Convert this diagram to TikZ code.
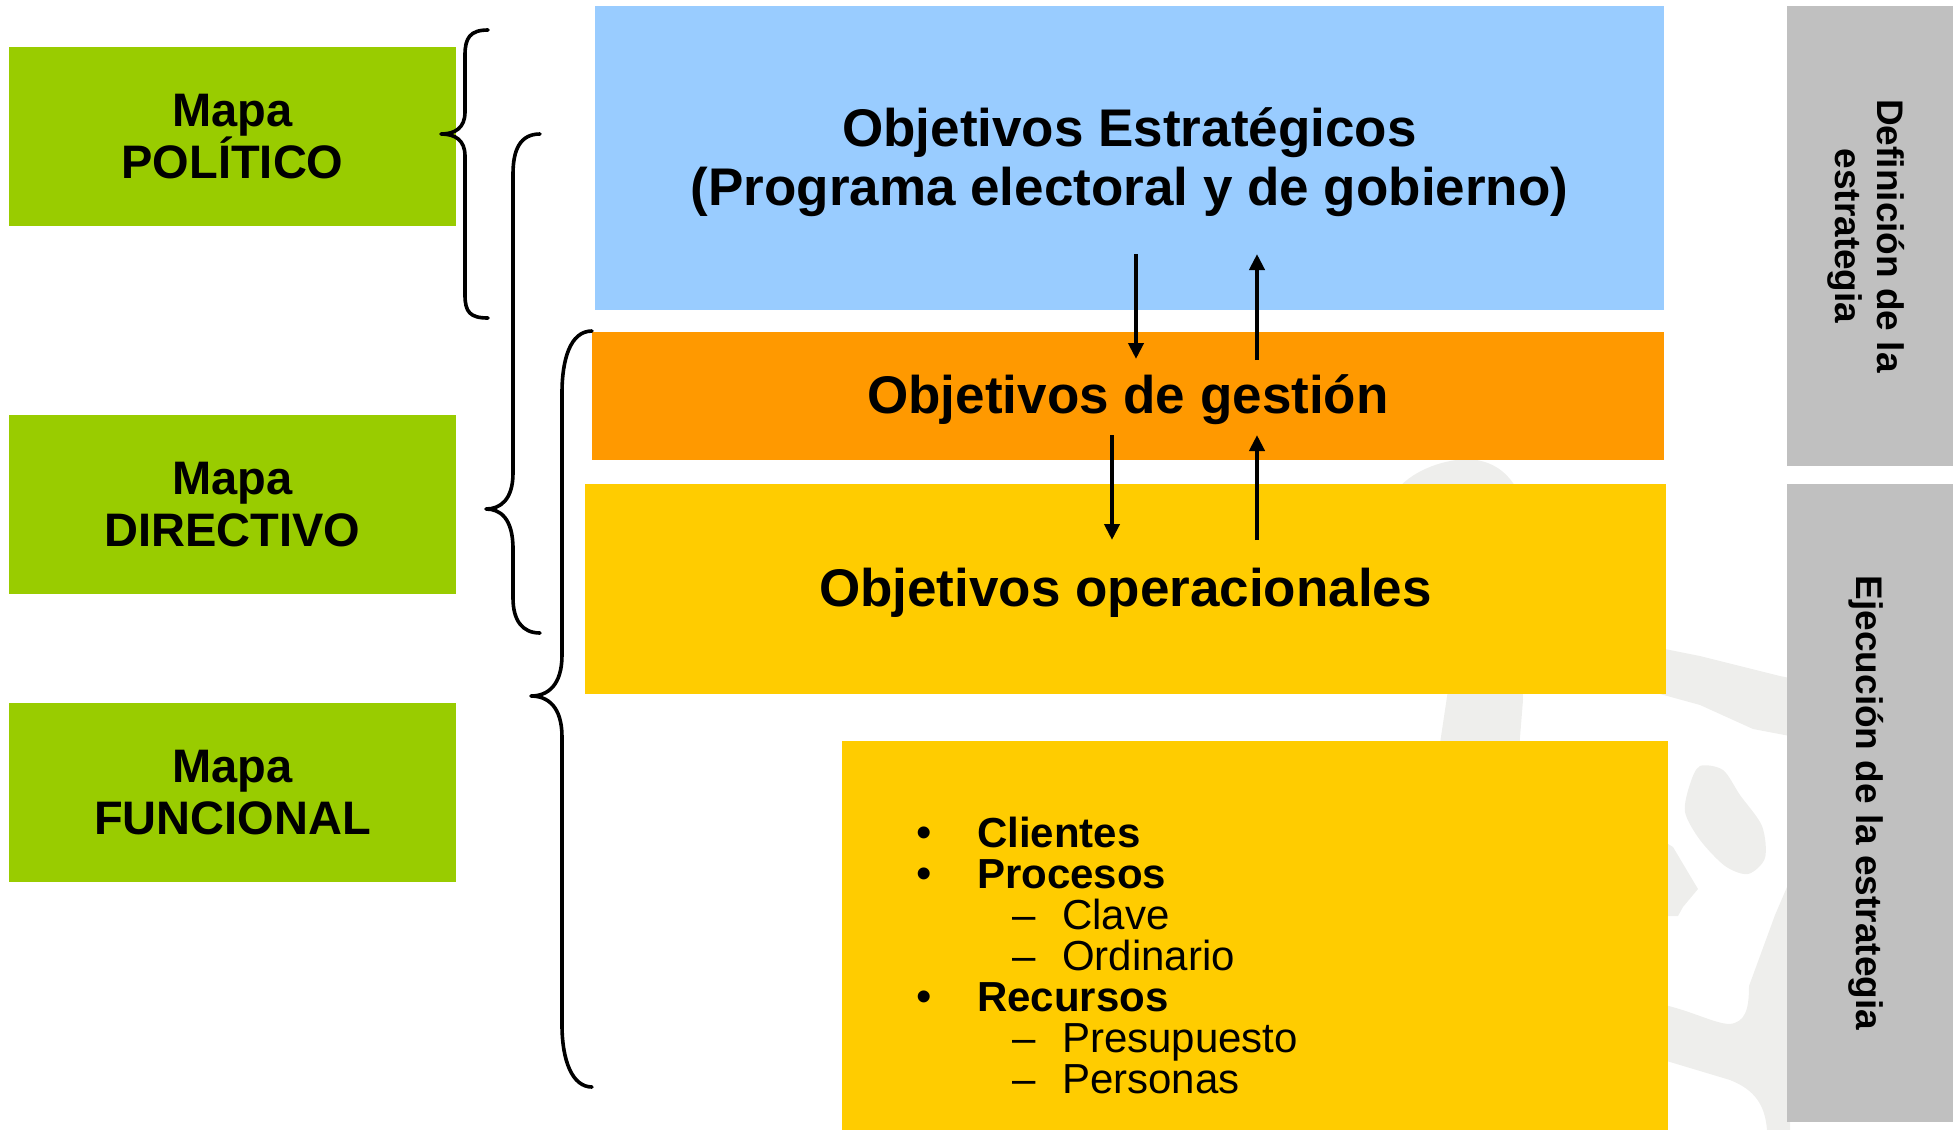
\documentclass[tikz,border=0pt]{standalone}
\usepackage{fontspec}
\setmainfont{Liberation Sans}
\usetikzlibrary{arrows.meta}
\definecolor{mgreen}{HTML}{99CC00}
\definecolor{mblue}{HTML}{99CCFF}
\definecolor{morange}{HTML}{FF9900}
\definecolor{myellow}{HTML}{FFCC00}
\definecolor{mgray}{HTML}{C0C0C0}
\definecolor{wmgray}{HTML}{EEEEEC}
\begin{document}
\begin{tikzpicture}[x=1pt,y=-1pt,
  box/.style={draw=none, inner sep=0pt, outer sep=0pt, anchor=north west, align=center, text=black},
  greenbox/.style={box, fill=mgreen, minimum width=447pt, minimum height=179pt,
    font=\fontsize{47}{52}\selectfont\bfseries},
  bigtext/.style={inner sep=0pt, align=center, font=\fontsize{53}{59}\selectfont\bfseries},
  sidetext/.style={rotate=-90, align=center, inner sep=0pt, font=\fontsize{37}{42}\selectfont\bfseries},
  brace/.style={line width=3.6pt, line cap=round, line join=round},
  arr/.style={line width=4pt, -{Triangle[width=15pt,length=16pt]}},
  wm/.style={fill=wmgray},
  li/.style={anchor=base west, inner sep=0pt, font=\fontsize{42}{42}\selectfont},
  lib/.style={li, font=\fontsize{42}{42}\selectfont\bfseries},
  bul/.style={anchor=base, inner sep=0pt, font=\fontsize{44}{42}\selectfont}]
\useasboundingbox (0,0) rectangle (1955,1130);

% watermark
\fill[wm] (1395,492) .. controls (1410,472) and (1440,460) .. (1467,459) .. controls (1490,460) and (1505,470) .. (1515,486) -- (1523,700) -- (1519,750) -- (1439,750) -- (1448,690) -- (1440,600) -- cycle;
\fill[wm] (1660,648) -- (1700,656) -- (1780,676) -- (1795,679) -- (1795,737) -- (1753,729) -- (1700,705) -- (1660,694) -- cycle;
\fill[wm] plot[smooth cycle] coordinates {(1700,766) (1723,770) (1740,795) (1762,826) (1765,858) (1748,874) (1725,866) (1700,840) (1685,812) (1690,784)};
\fill[wm] (1660,839) -- (1673,847) -- (1698,889) -- (1683,907) -- (1678,916) -- (1660,916) -- cycle;
\fill[wm] (1660,1004) .. controls (1690,1010) and (1715,1024) .. (1730,1024) .. controls (1745,1022) and (1749,1010) .. (1749,986) -- (1775,915) -- (1790,880) -- (1790,1130) -- (1767,1130) .. controls (1765,1105) and (1755,1090) .. (1730,1080) -- (1660,1059) -- cycle;

% green boxes
\node[greenbox] (pol) at (9,47) {Mapa\\POLÍTICO};
\node[greenbox] (dir) at (9,415) {Mapa\\DIRECTIVO};
\node[greenbox] (fun) at (9,703) {Mapa\\FUNCIONAL};

% main boxes
\node[box, fill=mblue, minimum width=1069pt, minimum height=304pt] (est) at (595,6) {};
\node[box, fill=morange, minimum width=1072pt, minimum height=128pt] (ges) at (592,332) {};
\node[box, fill=myellow, minimum width=1081pt, minimum height=210pt] (ope) at (585,484) {};
\node[box, fill=myellow, minimum width=826pt, minimum height=389pt] (fnc) at (842,741) {};
\node[bigtext] (estt) at ([yshift=-4pt]est.center) {Objetivos Estratégicos\\(Programa electoral y de gobierno)};
\node[bigtext] (gest) at ([yshift=-4pt]ges.center) {Objetivos de gestión};
\node[bigtext] (opet) at ([yshift=-4pt]ope.center) {Objetivos operacionales};

% side boxes
\node[box, fill=mgray, minimum width=166pt, minimum height=460pt] (def) at (1787,6) {};
\node[box, fill=mgray, minimum width=166pt, minimum height=638pt] (eje) at (1787,484) {};
\node[sidetext] (deft) at ([xshift=-4pt]def.center) {Definición de la\\estrategia};
\node[sidetext] (ejet) at ([xshift=-4pt]eje.center) {Ejecución de la estrategia};

% list
\node[bul] (b1) at (924,847) {•};
\node[lib] (t1) at (977,847) {Clientes};
\node[bul] (b2) at (924,888) {•};
\node[lib] (t2) at (977,888) {Procesos};
\node[li] (d1) at (1012,929) {–};
\node[li] (s1) at (1062,929) {Clave};
\node[li] (d2) at (1012,970) {–};
\node[li] (s2) at (1062,970) {Ordinario};
\node[bul] (b3) at (924,1011) {•};
\node[lib] (t3) at (977,1011) {Recursos};
\node[li] (d3) at (1012,1052) {–};
\node[li] (s3) at (1062,1052) {Presupuesto};
\node[li] (d4) at (1012,1093) {–};
\node[li] (s4) at (1062,1093) {Personas};

% arrows
\coordinate (d1s) at (1136,254); \coordinate (d1e) at (1136,359);
\coordinate (u1s) at (1257,360); \coordinate (u1e) at (1257,254);
\coordinate (d2s) at (1112,435); \coordinate (d2e) at (1112,540);
\coordinate (u2s) at (1257,540); \coordinate (u2e) at (1257,435);
\draw[arr] (d1s) -- (d1e);
\draw[arr] (u1s) -- (u1e);
\draw[arr] (d2s) -- (d2e);
\draw[arr] (u2s) -- (u2e);

% braces
\draw[brace] (488,30) .. controls (470,30) and (465,38) .. (465,55) -- (465,112) .. controls (465,128) and (455,134) .. (441,134) .. controls (455,134) and (465,140) .. (465,156) -- (465,295) .. controls (465,312) and (470,318) .. (488,318);
\draw[brace] (540,134) .. controls (520,134) and (513,150) .. (513,174) -- (513,473) .. controls (513,500) and (500,509) .. (486,509) .. controls (500,509) and (513,518) .. (513,549) -- (513,598) .. controls (513,620) and (522,633) .. (540,633);
\draw[brace] (592,331) .. controls (570,331) and (562,360) .. (562,393) -- (562,655) .. controls (562,685) and (548,696) .. (531,696) .. controls (548,696) and (562,707) .. (562,737) -- (562,1025) .. controls (562,1060) and (572,1087) .. (592,1087);
\end{tikzpicture}
\end{document}
